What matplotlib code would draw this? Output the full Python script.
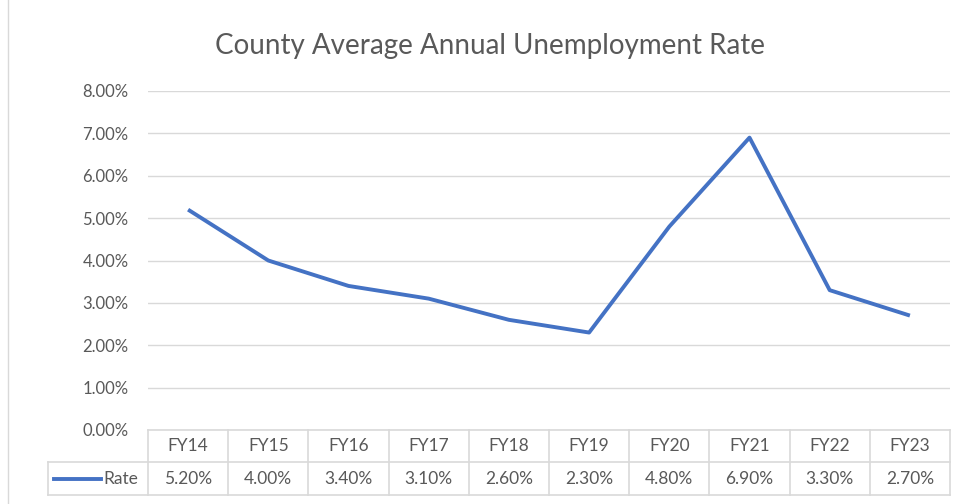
import matplotlib
matplotlib.use("Agg")
import matplotlib.pyplot as plt
from matplotlib.lines import Line2D
import matplotlib.transforms as mtrans

categories = ["FY14", "FY15", "FY16", "FY17", "FY18", "FY19", "FY20", "FY21", "FY22", "FY23"]
rate = [5.20, 4.00, 3.40, 3.10, 2.60, 2.30, 4.80, 6.90, 3.30, 2.70]
series_name = "Rate"
yticks = [0, 1, 2, 3, 4, 5, 6, 7, 8]

blue = "#4472C4"
grid = "#d9d9d9"
txt = "#595959"
plt.rcParams["font.family"] = ["Lato", "DejaVu Sans"]

fig = plt.figure(figsize=(9.59, 5.04), dpi=100, facecolor="white")
ax = fig.add_axes([148 / 959, 1 - 430 / 504, (950 - 148) / 959, (430 - 91) / 504])

x = list(range(len(categories)))
ax.plot(x, rate, color=blue, lw=2.8, solid_capstyle="butt", zorder=3)
ax.set_xlim(-0.5, len(categories) - 0.5)
ax.set_ylim(0, 8)
ax.set_yticks(yticks)
ax.set_yticklabels([f"{v:.2f}%" for v in yticks], color=txt, fontsize=12)
ax.tick_params(axis="y", length=0, pad=14)
ax.set_xticks([])
for s in ax.spines.values():
    s.set_visible(False)
ax.grid(axis="y", color=grid, lw=1)
ax.set_axisbelow(True)

fig.text(490 / 959, 1 - 46 / 504, "County Average Annual Unemployment Rate",
         ha="center", va="center", fontsize=20, color=txt)

# data table below the axis
tr = mtrans.blended_transform_factory(ax.transData, ax.transAxes)
h_px = 430 - 91
row1_top = 0.0
row1_bot = -(462 - 430) / h_px
row2_bot = -(495 - 430) / h_px
n = len(categories)
unit = (950 - 148) / n
legend_left = -0.5 - (147 - 47) / unit

def hline(x0, x1, y):
    ax.add_line(Line2D([x0, x1], [y, y], transform=tr, color=grid, lw=1.2, clip_on=False))

def vline(xx, y0, y1):
    ax.add_line(Line2D([xx, xx], [y0, y1], transform=tr, color=grid, lw=1.2, clip_on=False))

hline(-0.5, n - 0.5, row1_top)
hline(legend_left, n - 0.5, row1_bot)
hline(legend_left, n - 0.5, row2_bot)
for i in range(n + 1):
    vline(i - 0.5, row1_top, row2_bot)
vline(legend_left, row1_bot, row2_bot)

ymid1 = (row1_top + row1_bot) / 2
ymid2 = (row1_bot + row2_bot) / 2
for i, (c, v) in enumerate(zip(categories, rate)):
    ax.text(i, ymid1, c, transform=tr, ha="center", va="center", fontsize=12.5, color=txt)
    ax.text(i, ymid2, f"{v:.2f}%", transform=tr, ha="center", va="center", fontsize=12.5, color=txt)

key_x0 = -0.5 - (147 - 53) / unit
key_x1 = -0.5 - (147 - 100) / unit
ax.add_line(Line2D([key_x0, key_x1], [ymid2, ymid2], transform=tr, color=blue, lw=2.8, clip_on=False))
ax.text(-0.5 - (147 - 102) / unit, ymid2, series_name, transform=tr, ha="left", va="center",
        fontsize=12.5, color=txt)

# left border of the chart frame
fig.add_artist(Line2D([8 / 959, 8 / 959], [0, 1], transform=fig.transFigure, color=grid, lw=1))

fig.savefig("out.png", dpi=100, facecolor="white")
